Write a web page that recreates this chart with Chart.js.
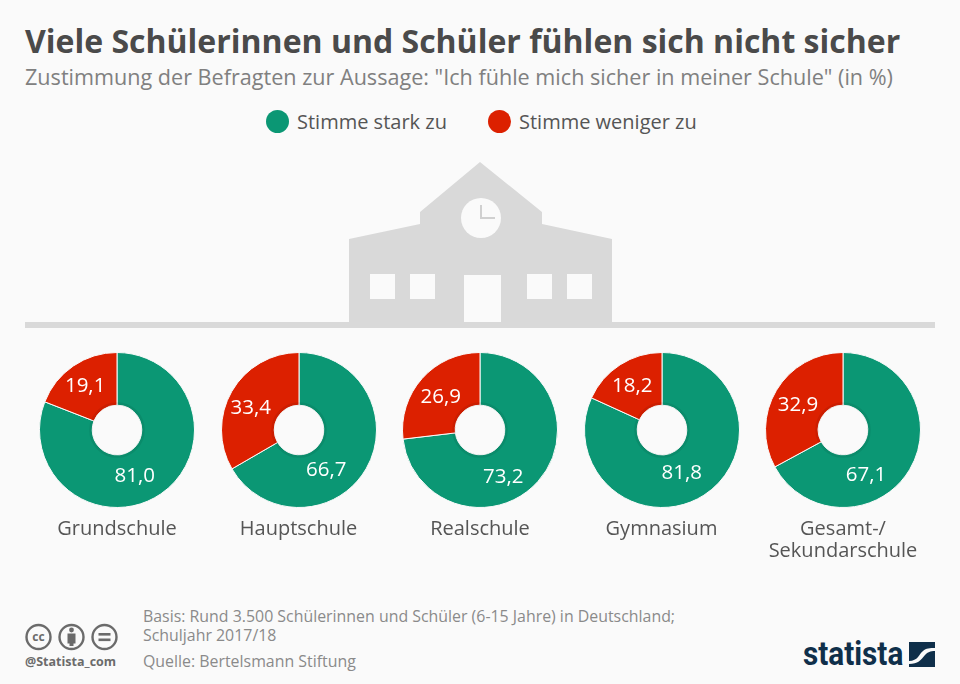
<!DOCTYPE html>
<html lang="de">
<head>
<meta charset="utf-8">
<title>Schule</title>
<script src="https://cdn.jsdelivr.net/npm/chart.js@4"></script>
<style>
    html, body { margin: 0; padding: 0; }
    body { width: 960px; height: 684px; background: #fafafa; position: relative; overflow: hidden; font-family: "Open Sans", sans-serif; }
    .abs { position: absolute; white-space: nowrap; }
    #title { left: 25px; top: 18px; font-size: 32px; line-height: 46px; font-weight: 700; color: #4a4a4a; }
    #subtitle { left: 25px; top: 62px; font-size: 21.6px; line-height: 30px; color: #808080; }
    .dot { position: absolute; width: 23px; height: 23px; border-radius: 50%; top: 110px; }
    .legend-text { top: 108px; font-size: 20px; line-height: 28px; color: #555; }
    .cat { top: 517px; width: 180px; text-align: center; font-size: 20px; line-height: 22px; color: #555; white-space: pre-line; }
    canvas { position: absolute; top: 340px; }
    .foot { left: 143px; font-size: 15.9px; line-height: 20px; color: #8a8a8a; }
    #handle { left: 25px; top: 654px; font-size: 12.5px; line-height: 16px; font-weight: 700; color: #6b6b6b; }
    #logo { left: 803px; top: 632px; font-family: "Roboto", sans-serif; font-size: 33px; line-height: 44px; font-weight: 700; color: #0f2f4a; transform: scaleX(0.9); transform-origin: left top; }
    svg { position: absolute; left: 0; top: 0; }
</style>
</head>
<body>
<svg width="960" height="684">
    <rect x="25" y="322" width="910" height="6" fill="#d9d9d9"/>
    <polygon points="349,328 349,239 420,224 420,212 480,162 542,212 542,224 612,239 612,328" fill="#d9d9d9"/>
    <circle cx="481" cy="218" r="20" fill="#fafafa"/>
    <path d="M481 205 V218 H495" fill="none" stroke="#d0d0d0" stroke-width="2"/>
    <g fill="#fafafa">
        <rect x="370" y="274" width="25" height="25"/>
        <rect x="410" y="274" width="25" height="25"/>
        <rect x="527" y="274" width="25" height="25"/>
        <rect x="567" y="274" width="25" height="25"/>
        <rect x="464" y="275" width="37" height="47"/>
    </g>
    <!-- cc icons -->
    <g fill="none" stroke="#6b6b6b" stroke-width="2.4">
        <circle cx="38.5" cy="637" r="12"/>
        <circle cx="71.5" cy="637" r="12"/>
        <circle cx="104.5" cy="637" r="12"/>
    </g>
    <text x="38.5" y="641" text-anchor="middle" font-family="Open Sans" font-size="12" font-weight="700" fill="#6b6b6b">cc</text>
    <circle cx="71.5" cy="630" r="2.4" fill="#6b6b6b"/>
    <rect x="67.5" y="633.5" width="8" height="10" fill="#6b6b6b"/>
    <rect x="69.5" y="640" width="4" height="6" fill="#6b6b6b"/>
    <rect x="98.5" y="633" width="12" height="2.6" fill="#6b6b6b"/>
    <rect x="98.5" y="638.5" width="12" height="2.6" fill="#6b6b6b"/>
    <!-- logo mark -->
    <rect x="909" y="642" width="26" height="25" fill="#0f2f4a"/>
    <path d="M909 661 C918 661 919 654 923 651 C926 648 930 648 935 648 V651 C930 651 928 652 925 655 C921 660 918 664 909 664 Z" fill="#fafafa"/>
</svg>

<div id="title" class="abs">Viele Schülerinnen und Schüler fühlen sich nicht sicher</div>
<div id="subtitle" class="abs">Zustimmung der Befragten zur Aussage: "Ich fühle mich sicher in meiner Schule" (in %)</div>

<div class="dot" style="left:266px;background:#0b9774"></div>
<div class="abs legend-text" id="leg0" style="left:297px"></div>
<div class="dot" style="left:488px;background:#dc2000"></div>
<div class="abs legend-text" id="leg1" style="left:519px"></div>

<div class="abs foot" style="top:606px">Basis: Rund 3.500 Schülerinnen und Schüler (6-15 Jahre) in Deutschland;</div>
<div class="abs foot" style="top:625px">Schuljahr 2017/18</div>
<div class="abs foot" style="top:651px">Quelle: Bertelsmann Stiftung</div>
<div id="handle" class="abs">@Statista_com</div>
<div id="logo" class="abs">statista</div>

<script>
const categories = ["Grundschule", "Hauptschule", "Realschule", "Gymnasium", "Gesamt-/\nSekundarschule"];
const seriesNames = ["Stimme stark zu", "Stimme weniger zu"];
const stark = [81.0, 66.7, 73.2, 81.8, 67.1];
const weniger = [19.1, 33.4, 26.9, 18.2, 32.9];

const colors = ["#0b9774", "#dc2000"];
const centerX = [117, 298.5, 480, 661.5, 843];
// shift of each value label away from the middle of its slice
const starkShift = [[-11, 4], [-17, 15], [-15, 13], [-8, 0], [-21, 19]];
const wenigerShift = [[-3, -2], [-4, 4], [-1, 1], [-2, -1], [-1, 1]];

seriesNames.forEach((name, i) => {
    document.getElementById("leg" + i).textContent = name;
});

const labelPlugin = {
    id: "sliceLabels",
    afterDatasetsDraw(chart) {
        const ctx = chart.ctx;
        const arcs = chart.getDatasetMeta(0).data;
        const idx = chart.options.plugins.sliceLabels.index;
        const shifts = [starkShift[idx], wenigerShift[idx]];

        // dark ring around the hole
        ctx.save();
        ctx.beginPath();
        ctx.arc(arcs[0].x, arcs[0].y, arcs[0].innerRadius + 1.5, 0, Math.PI * 2);
        ctx.strokeStyle = "rgba(0,0,0,0.07)";
        ctx.lineWidth = 3;
        ctx.stroke();

        ctx.fillStyle = "#fff";
        ctx.font = "20.5px 'Open Sans'";
        ctx.textAlign = "center";
        ctx.textBaseline = "middle";
        arcs.forEach((arc, j) => {
            const p = arc.tooltipPosition();
            const text = chart.data.datasets[0].data[j].toFixed(1).replace(".", ",");
            ctx.fillText(text, p.x + shifts[j][0], p.y + shifts[j][1]);
        });
        ctx.restore();
    }
};

categories.forEach((cat, i) => {
    const canvas = document.createElement("canvas");
    canvas.width = 180;
    canvas.height = 180;
    canvas.style.left = (centerX[i] - 90) + "px";
    document.body.appendChild(canvas);

    const label = document.createElement("div");
    label.className = "abs cat";
    label.style.left = (centerX[i] - 90) + "px";
    label.textContent = cat;
    document.body.appendChild(label);

    new Chart(canvas.getContext("2d"), {
        type: "doughnut",
        data: {
            labels: seriesNames,
            datasets: [{
                data: [stark[i], weniger[i]],
                backgroundColor: colors,
                borderColor: "#fafafa",
                borderWidth: 1
            }]
        },
        options: {
            responsive: false,
            animation: false,
            radius: 77.5,
            cutout: "32%",
            plugins: {
                legend: { display: false },
                tooltip: { enabled: false },
                sliceLabels: { index: i }
            }
        },
        plugins: [labelPlugin]
    });
});
</script>
</body>
</html>
